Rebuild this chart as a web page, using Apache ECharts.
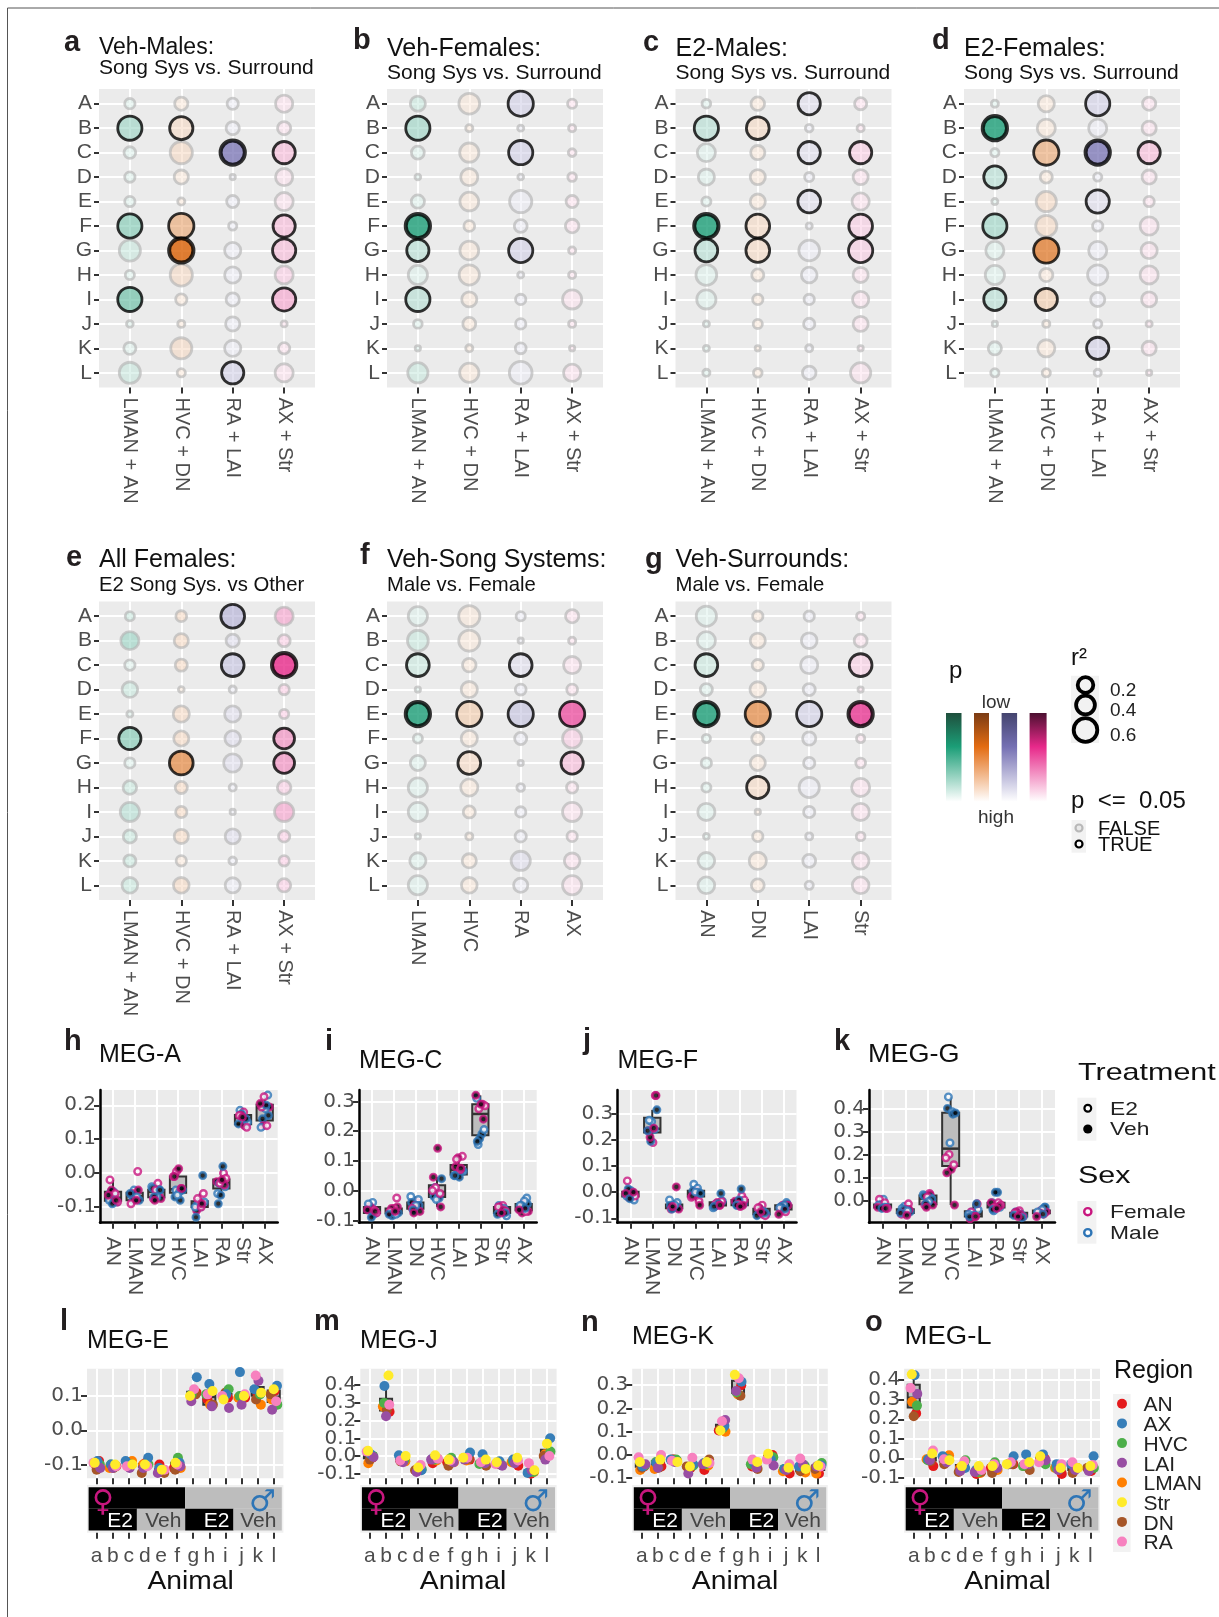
<!DOCTYPE html>
<html><head><meta charset="utf-8">
<style>html,body{margin:0;padding:0;background:#fff}#c{width:1219px;height:1617px}</style>
<script src="https://cdn.jsdelivr.net/npm/echarts@6/dist/echarts.min.js"></script>
</head><body><div id="c"></div>
<script>
// ---------- categories ----------
const rowNames = ['A','B','C','D','E','F','G','H','I','J','K','L'];
const pairCols = ['LMAN + AN','HVC + DN','RA + LAI','AX + Str'];
const songCols = ['LMAN','HVC','RA','AX'];
const surrCols = ['AN','DN','LAI','Str'];
const regionsBox = ['AN','LMAN','DN','HVC','LAI','RA','Str','AX'];
const animals = ['a','b','c','d','e','f','g','h','i','j','k','l'];
const regionNames = ['AN','AX','HVC','LAI','LMAN','Str','DN','RA'];

// ---------- bubble panels: r2 per column, colour shade (p, 10 = lowest p), significant rows ----------
const aR2 = [[.06,.64,.09,.06,.06,.64,.46,.04,.64,.01,.10,.46],[.13,.58,.52,.16,.014,.71,.71,.52,.08,.014,.46,.026],[.08,.13,.71,.002,.10,.026,.23,.23,.13,.16,.23,.52],[.27,.13,.52,.27,.31,.52,.58,.31,.58,.006,.08,.31]];
const bR2 = [[.19,.64,.12,.004,.13,.71,.52,.36,.64,.032,.002,.41],[.44,.014,.36,.27,.34,.07,.34,.41,.19,.12,.014,.36],[.71,.006,.64,.004,.52,.12,.64,.006,.06,.06,.07,.55],[.04,.014,.02,.032,.10,.14,.014,.014,.36,.014,.002,.27]];
const cR2 = [[.032,.64,.31,.23,.04,.71,.55,.44,.36,.006,.006,.014],[.14,.55,.16,.19,.19,.61,.61,.10,.06,.04,.002,.032],[.52,.02,.52,.04,.55,.006,.44,.21,.06,.08,.014,.14],[.10,.014,.52,.19,.27,.61,.64,.19,.23,.19,.002,.41]];
const dR2 = [[.014,.71,.026,.52,.006,.64,.31,.36,.52,.002,.13,.026],[.23,.31,.71,.10,.41,.46,.71,.13,.52,.014,.27,.026],[.64,.31,.71,.026,.58,.06,.31,.41,.16,.026,.52,.014],[.13,.16,.52,.16,.06,.31,.23,.31,.19,.006,.16,.002]];
const eR2 = [[.04,.31,.06,.21,.006,.52,.06,.14,.36,.13,.10,.21],[.07,.16,.10,.004,.23,.19,.61,.10,.08,.16,.06,.21],[.61,.13,.55,.014,.23,.21,.31,.014,.002,.19,.02,.19],[.31,.10,.71,.06,.04,.44,.44,.14,.36,.08,.06,.13]];
const fR2 = [[.36,.44,.55,.002,.71,.04,.19,.36,.36,.002,.23,.36],[.46,.46,.14,.23,.71,.23,.55,.27,.10,.014,.16,.21],[.04,.002,.55,.07,.71,.10,.002,.02,.06,.08,.36,.16],[.13,.014,.27,.07,.71,.36,.52,.08,.36,.06,.21,.36]];
const gR2 = [[.41,.31,.55,.10,.71,.026,.06,.04,.27,.004,.25,.25],[.06,.19,.08,.21,.71,.10,.19,.52,.002,.06,.27,.12],[.06,.21,.27,.10,.71,.13,.08,.41,.08,.014,.12,.026],[.026,.12,.55,.002,.71,.026,.05,.31,.27,.032,.25,.25]];

const aShade = [[1,4,1,1,1,5,2,1,6,1,1,2],[1,2,2,1,1,5,10,2,1,1,2,1],[1,1,9,1,1,1,1,1,1,1,1,3],[1,1,3,1,1,3,3,2,4,1,1,1]];
const bShade = [[2,4,1,1,1,10,3,1,3,1,1,2],[1,1,1,1,1,1,1,1,1,1,1,1],[3,1,3,1,1,1,3,1,1,1,1,1],[1,1,1,1,1,1,1,1,1,1,1,1]];
const cShade = [[1,3,1,1,1,10,3,1,1,1,1,1],[1,2,1,1,1,2,2,1,1,1,1,1],[2,1,2,1,2,1,1,1,1,1,1,1],[1,1,2,1,1,2,2,1,1,1,1,1]];
const dShade = [[1,10,1,3,1,4,1,1,3,1,1,1],[1,1,5,1,2,2,8,1,3,1,1,1],[3,1,9,1,2,1,1,1,1,1,3,1],[1,1,3,1,1,1,1,1,1,1,1,1]];
const eShade = [[2,4,1,2,1,5,1,2,3,2,2,2],[2,2,2,1,2,2,7,2,2,2,1,2],[5,2,4,1,2,2,2,1,1,2,1,1],[4,2,10,2,2,5,5,2,4,2,2,2]];
const fShade = [[1,2,2,1,10,1,1,1,1,1,1,1],[1,1,1,1,3,1,2,1,1,1,1,1],[1,1,2,1,4,1,1,1,1,1,2,1],[1,1,1,1,8,2,3,1,1,1,1,1]];
const gShade = [[1,1,2,1,10,1,1,1,1,1,1,1],[1,1,1,1,7,1,1,2,1,1,1,1],[1,1,1,1,3,1,1,1,1,1,1,1],[1,1,2,1,9,1,1,1,1,1,1,1]];

const aSig = [[1,5,8],[1,5,6],[2,11],[2,5,6,8]];
const bSig = [[1,5,6,8],[],[0,2,6],[]];
const cSig = [[1,5,6],[1,5,6],[0,2,4],[2,5,6]];
const dSig = [[1,3,5,8],[2,6,8],[0,2,4,10],[2]];
const eSig = [[5],[6],[0,2],[2,5,6]];
const fSig = [[2,4],[4,6],[2,4],[4,6]];
const gSig = [[2,4],[4,7],[4],[2,4]];

// ---------- region panels: per region, 12 animals (F-E2 x3, F-Veh x3, M-E2 x3, M-Veh x3) ----------
const pointSex = ['F','F','F','F','F','F','M','M','M','M','M','M'];
const pointTreat = ['E2','E2','E2','Veh','Veh','Veh','E2','E2','E2','Veh','Veh','Veh'];
const megA = [[-.02,-.06,-.085,-.05,-.065,-.08,-.055,-.08,-.085,-.055,-.08,-.09],[.005,-.075,-.09,-.05,-.06,-.08,-.05,-.065,-.07,-.08,-.08,-.06],[-.03,-.05,-.075,-.06,-.075,-.08,-.04,-.05,-.07,-.045,-.05,-.07],[.005,-.01,-.045,.013,-.01,-.045,-.05,-.055,-.065,-.07,-.08,-.05],[-.06,-.075,-.1,-.085,-.11,-.09,-.085,-.09,-.1,-.007,-.1,-.13],[0,-.015,-.03,-.025,-.035,-.02,-.06,-.04,-.03,.02,-.065,-.09],[.18,.17,.135,.17,.14,.165,.185,.14,.15,.175,.145,.16],[.225,.195,.14,.195,.14,.205,.23,.19,.135,.17,.16,.2]];
const megC = [[-.055,-.065,-.075,-.055,-.065,-.07,-.04,-.045,-.075,-.065,-.08,-.09],[-.025,-.06,-.07,-.055,-.06,-.07,-.07,-.075,-.08,-.075,-.085,-.08],[-.04,-.05,-.06,-.05,-.07,-.075,-.02,-.03,-.05,-.04,-.05,-.065],[.01,0,-.01,.142,.045,-.055,.01,-.015,-.03,-.02,-.025,.04],[.115,.105,.07,.11,.08,.075,.065,.055,.05,.07,.045,.05],[.29,.285,.275,.32,.24,.29,.31,.205,.155,.19,.175,.165],[-.05,-.055,-.07,-.055,-.065,-.075,-.05,-.06,-.085,-.06,-.08,-.075],[-.045,-.06,-.07,-.07,-.075,-.065,-.025,-.035,-.05,-.045,-.05,-.06]];
const megF = [[.043,-.01,-.015,-.02,-.005,0,.005,-.015,-.03,.012,-.008,-.025],[.37,.19,.235,.37,.21,.245,.27,.275,.24,.315,.195,.235],[-.05,-.06,-.065,.02,-.065,-.055,-.03,-.04,-.05,-.05,-.06,-.065],[-.01,-.02,-.035,.005,-.015,-.05,.03,.015,0,.005,0,-.005],[-.035,-.045,-.05,-.04,-.055,-.05,-.035,-.045,-.06,-.005,-.045,-.055],[-.015,-.03,-.045,-.035,-.05,-.055,-.04,-.045,-.05,.012,-.03,-.05],[-.05,-.06,-.09,-.06,-.085,-.075,-.065,-.075,-.085,-.065,-.09,-.08],[-.05,-.06,-.075,-.05,-.07,-.085,-.04,-.05,-.06,-.045,-.055,-.065]];
const megG = [[.005,-.01,-.035,-.02,-.03,-.035,.005,-.02,-.03,-.02,-.03,-.035],[-.015,-.04,-.06,-.04,-.055,-.065,-.025,-.035,-.045,-.05,-.04,-.055],[.03,.015,-.02,.025,-.02,-.03,.025,.01,-.005,.02,.005,-.015],[.2,.185,.155,.135,.12,-.02,.45,.385,.25,.4,.375,.38],[-.015,-.05,-.07,-.06,-.08,-.07,-.04,-.05,-.06,-.015,-.065,-.07],[-.01,-.02,-.03,-.01,-.025,-.035,-.01,-.03,-.045,.035,.035,-.04],[-.045,-.055,-.07,-.05,-.06,-.07,-.05,-.06,-.07,-.055,-.065,-.075],[-.045,-.055,-.06,-.05,-.055,-.07,-.03,-.04,-.05,-.03,-.055,-.06]];

// ---------- animal panels: per animal, values for AN,AX,HVC,LAI,LMAN,Str,DN,RA ----------
const megE = [[-.09,-.09,-.1,-.11,-.1,-.095,-.115,-.095],[-.105,-.1,-.1,-.11,-.11,-.1,-.11,-.105],[-.095,-.09,-.1,-.11,-.09,-.1,-.1,-.105],[-.095,-.08,-.1,-.11,-.1,-.1,-.125,-.105],[-.1,-.11,-.115,-.125,-.115,-.115,-.125,-.115],[-.11,-.095,-.08,-.105,-.11,-.095,-.115,-.1],[.11,.155,.105,.085,.105,.1,.105,.12],[.09,.135,.105,.07,.075,.115,.075,.105],[.095,.105,.12,.065,.1,.09,.11,.1],[.095,.17,.1,.075,.095,.1,.095,.105],[.105,.12,.105,.145,.075,.11,.09,.16],[.115,.13,.075,.06,.09,.12,.105,.085]];
const megJ = [[-.01,.01,0,-.005,-.04,.03,-.02,.025],[.25,.395,.3,.225,.28,.455,.26,.29],[-.03,.005,-.02,-.035,-.03,0,-.03,-.025],[-.08,-.08,-.075,-.09,-.08,-.065,-.08,-.05],[-.04,-.015,-.02,-.02,-.025,.005,-.015,-.015],[-.035,-.03,-.01,-.035,-.035,-.02,-.055,-.025],[-.02,.02,-.01,-.02,-.025,-.01,-.015,-.01],[-.04,.01,-.045,-.04,-.035,-.02,-.055,-.035],[-.05,-.03,-.05,-.055,-.04,-.035,-.045,-.045],[-.055,-.02,-.03,-.04,-.035,-.01,-.03,-.025],[-.1,-.095,-.09,-.08,-.09,-.08,-.09,-.04],[.01,.1,.025,-.02,.01,.07,0,0]];
const megK = [[-.05,-.05,-.045,-.04,-.065,-.03,-.055,-.01],[-.05,-.035,-.03,-.055,-.06,-.02,-.055,0],[-.02,-.02,-.02,-.03,-.025,-.03,-.02,-.025],[-.055,-.04,-.045,-.08,-.055,-.05,-.05,-.012],[-.065,-.035,-.04,-.04,-.045,-.03,-.02,-.035],[.105,.125,.115,.15,.1,.105,.11,.145],[.3,.315,.27,.275,.26,.345,.255,.33],[-.05,-.035,-.04,-.055,-.05,-.03,-.06,-.02],[0,-.02,-.01,-.045,-.01,.005,-.005,-.02],[-.08,-.06,-.06,-.065,-.07,-.055,-.065,-.04],[-.07,-.05,-.045,-.04,-.075,-.06,-.07,-.015],[-.08,-.045,-.035,-.05,-.08,-.045,-.06,-.05]];
const megL = [[.23,.425,.27,.33,.29,.43,.215,.36],[-.04,-.005,-.01,-.01,-.005,.025,-.015,.04],[-.015,.01,-.005,-.02,.015,-.01,-.03,-.005],[-.05,-.05,-.01,-.065,-.05,-.04,-.07,-.015],[-.08,-.06,-.07,-.07,-.075,-.04,-.07,-.06],[-.05,-.045,-.02,-.05,-.06,-.04,-.075,-.03],[-.03,.01,-.03,-.03,-.03,-.03,-.03,-.02],[-.04,.02,-.04,-.03,-.03,-.02,-.06,-.03],[0,.02,-.03,-.01,0,.01,-.01,-.02],[-.08,-.03,-.05,-.06,-.05,-.05,-.06,-.03],[-.06,-.03,-.05,-.06,-.05,-.05,-.075,-.02],[-.065,.01,-.05,-.065,-.05,-.04,-.05,-.035]];

// dodge offsets (category units)
const dodge12 = [-.14,.1,.21,-.07,-.21,.14,.03,-.17,.17,-.1,.07,-.03];
const dodge8 = [.15,.05,.2,.22,-.1,-.12,.0,-.2];
const stackOrder = [6,0,9,3,7,1,10,4,8,2,11,5];
// strip annotation: [from, to, row, level]
const stripTiles = [[-.5,5.5,1,'F'],[5.5,11.5,1,'M'],[-.5,2.5,0,'E2'],[2.5,5.5,0,'Veh'],[5.5,8.5,0,'E2'],[8.5,11.5,0,'Veh']];
const stripTexts = [['E2',1.45,-.09,'#fff'],['Veh',4.14,-.09,'#444'],['E2',7.45,-.09,'#fff'],['Veh',10.04,-.09,'#444']];
const stripSymbols = [['\u2640',.39,.77,'#C8177F'],['\u2642',10.3,.75,'#2E75B6']];

// ---------- styling ----------
const FONT = '"Liberation Sans", Arial, sans-serif';
const WIDE = '"DejaVu Sans", sans-serif';
const GREY = '#4d4d4d';
const dark2 = [[27,158,119],[217,95,2],[117,112,179],[231,41,138]];
const sexColor = {F:'#C8177F', M:'#2E75B6'};
const regionColor = {AN:'#E41A1C',AX:'#377EB8',HVC:'#4DAF4A',LAI:'#984EA3',LMAN:'#FF7F00',Str:'#FFEB2A',DN:'#A65628',RA:'#F781BF'};
const drawOrder = ['AN','LMAN','DN','HVC','AX','LAI','RA','Str'];

const grid=[], xAxis=[], yAxis=[], series=[], graphic=[];
function txt(text,x,y,size,opt){opt=opt||{};
  graphic.push({type:'text',x:x,y:y,scaleX:opt.sx||1,z:opt.z||50,silent:true,style:{text:text,x:0,y:0,fill:opt.fill||'#111',
    font:(opt.bold?'bold ':'')+size+'px '+(opt.family||FONT),textAlign:opt.align||'left',textVerticalAlign:'middle',align:opt.align||'left',verticalAlign:'middle'}});
}
function rect(x,y,w,h,fill){graphic.push({type:'rect',z:40,silent:true,shape:{x:x,y:y,width:w,height:h},style:{fill:fill}});}
function circ(cx,cy,r,fill,stroke,lw){graphic.push({type:'circle',z:45,silent:true,shape:{cx:cx,cy:cy,r:r},style:{fill:fill,stroke:stroke,lineWidth:lw}});}
const seq=n=>Array.from({length:n},(_,i)=>i);
function addGrid(l,t,w,h){grid.push({left:l,top:t,width:w,height:h,show:true,backgroundColor:'#ebebeb',borderWidth:0,containLabel:false});return grid.length-1;}
const wl={show:true,lineStyle:{color:'#fff',width:2}};
const tick=(len,vals)=>({show:true,length:len,customValues:vals,lineStyle:{color:'#333',width:2}});

function mix(c,t){const k=Math.min(1,t+.07),m=c.map(v=>Math.round(255+(v-255)*k));return 'rgba('+m[0]+','+m[1]+','+m[2]+','+(0.55+0.45*t)+')';}

function bubblePanel(l,t,cols,r2,shade,sig){
  const g=addGrid(l,t,216,298.5);
  xAxis.push({gridIndex:g,type:'value',min:-.6,max:3.6,position:'bottom',axisLine:{show:false,onZero:false},splitLine:wl,axisTick:tick(6,seq(4)),
    axisLabel:{customValues:seq(4),rotate:-90,margin:10,fontFamily:FONT,fontSize:20,color:GREY,showMinLabel:true,showMaxLabel:true,formatter:v=>cols[Math.round(v)]}});
  yAxis.push({gridIndex:g,type:'value',inverse:true,min:-.6,max:11.6,axisLine:{show:false,onZero:false},splitLine:wl,axisTick:tick(5,seq(12)),
    axisLabel:{customValues:seq(12),margin:7,fontFamily:FONT,fontSize:21,color:GREY,lineHeight:16,hideOverlap:false,showMinLabel:true,showMaxLabel:true,formatter:v=>rowNames[Math.round(v)]}});
  const data=[];
  cols.forEach((c,ci)=>rowNames.forEach((rn,ri)=>{
    const s=sig[ci].indexOf(ri)>=0, lv=shade[ci][ri]/10, strong=s&&shade[ci][ri]>=9;
    data.push({value:[ci,ri,r2[ci][ri]],symbolSize:4.2+25*Math.sqrt(r2[ci][ri])-(strong?1:0),
      itemStyle:{color:mix(dark2[ci],lv),borderColor:s?'#000':'rgba(180,180,180,.82)',borderWidth:strong?4:2.8}});
  }));
  // non-significant first so black rings sit on top
  data.sort((a,b)=>(a.itemStyle.borderColor==='#000')-(b.itemStyle.borderColor==='#000'));
  series.push({type:'scatter',xAxisIndex:g,yAxisIndex:g,data:data,silent:true,animation:false,clip:false});
}
function quant(v){const s=v.slice().sort((a,b)=>a-b),q=p=>{const k=(s.length-1)*p,f=Math.floor(k);return s[f]+(s[Math.min(f+1,s.length-1)]-s[f])*(k-f);};
  const q1=q(.25),q3=q(.75),iqr=q3-q1,lo=s.find(x=>x>=q1-1.5*iqr),hi=s.slice().reverse().find(x=>x<=q3+1.5*iqr);return [lo,q1,q(.5),q3,hi];}
function boxItem(params,api){
  const x=api.value(0),hw=.375,st={stroke:'#333',lineWidth:2,fill:'#bdbdbd'},ln={stroke:'#333',lineWidth:2};
  const p=(dx,i)=>api.coord([x+dx,api.value(i)]);
  const a=p(-hw,2),b=p(hw,4),m1=p(-hw,3),m2=p(hw,3),w1=p(0,1),w2=p(0,2),w3=p(0,4),w4=p(0,5);
  return {type:'group',children:[
    {type:'line',shape:{x1:w1[0],y1:w1[1],x2:w2[0],y2:w2[1]},style:ln},
    {type:'line',shape:{x1:w3[0],y1:w3[1],x2:w4[0],y2:w4[1]},style:ln},
    {type:'rect',shape:{x:a[0],y:b[1],width:b[0]-a[0],height:a[1]-b[1]},style:st},
    {type:'line',shape:{x1:m1[0],y1:m1[1],x2:m2[0],y2:m2[1]},style:{stroke:'#333',lineWidth:2.5}}]};
}
function boxSeries(g,groups){
  series.push({type:'custom',xAxisIndex:g,yAxisIndex:g,silent:true,animation:false,clip:false,z:2,renderItem:boxItem,encode:{x:0,y:[1,2,3,4,5]},
    data:groups.map((v,i)=>[i].concat(quant(v)))});
}
function regionPanel(l,w,ymin,ymax,ticks,vals){
  const t=1090,h=132.7,g=addGrid(l,t,w,h);
  xAxis.push({gridIndex:g,type:'value',min:-.6,max:7.6,axisLine:{show:true,onZero:false,lineStyle:{color:'#000',width:2.5}},splitLine:wl,axisTick:tick(6,seq(8)),
    axisLabel:{customValues:seq(8),rotate:-90,margin:14,fontFamily:FONT,fontSize:21,color:GREY,lineHeight:16,hideOverlap:false,showMinLabel:true,showMaxLabel:true,formatter:v=>regionsBox[Math.round(v)]}});
  yAxis.push({gridIndex:g,type:'value',min:ymin,max:ymax,axisLine:{show:true,onZero:false,lineStyle:{color:'#000',width:2.5}},splitLine:wl,axisTick:tick(6,ticks),
    axisLabel:{customValues:ticks,margin:4,fontFamily:WIDE,fontSize:20,color:GREY,lineHeight:14,hideOverlap:false,showMinLabel:true,showMaxLabel:true,formatter:v=>v.toFixed(1)}});
  boxSeries(g,vals);
  const data=[];
  vals.forEach((v,r)=>stackOrder.forEach(i=>{
    data.push({value:[r+dodge12[(i+r*5)%12],v[i]],symbolSize:6.6,itemStyle:{color:pointTreat[i]==='E2'?'#fff':'#000',borderColor:sexColor[pointSex[i]],borderWidth:2.4}});
  }));
  series.push({type:'scatter',xAxisIndex:g,yAxisIndex:g,data:data,silent:true,animation:false,clip:false,z:3});
}
function animalPanel(l,w,ymin,ymax,ticks,vals,nameX,dense){
  const t=1368.7,h=109.5,g=addGrid(l,t,w,h);
  // dense scales: the axis ends are listed too and switched off, so every real tick label stays drawn
  const tv=dense?[ymin].concat(ticks,[ymax]):ticks;
  xAxis.push({gridIndex:g,type:'value',min:-.6,max:11.6,axisLine:{show:false,onZero:false},splitLine:wl,axisTick:tick(6,seq(12)),axisLabel:{show:false}});
  yAxis.push({gridIndex:g,type:'value',min:ymin,max:ymax,axisLine:{show:false,onZero:false},
    splitLine:{show:true,showMinLine:!dense,showMaxLine:!dense,lineStyle:{color:'#fff',width:2}},axisTick:tick(6,tv),
    axisLabel:{customValues:tv,margin:4,fontFamily:WIDE,fontSize:20,color:GREY,hideOverlap:false,showMinLabel:!dense,showMaxLabel:!dense,formatter:v=>(ticks.indexOf(v)<0?'':v.toFixed(1))}});
  boxSeries(g,vals);
  drawOrder.forEach((rn,oi)=>{
    const ci=regionNames.indexOf(rn);
    series.push({type:'scatter',name:rn,xAxisIndex:g,yAxisIndex:g,silent:true,animation:false,clip:false,z:3+oi*.01,symbolSize:10,itemStyle:{color:regionColor[rn],opacity:1},
      data:vals.map((row,ai)=>[ai+dodge8[(ci+ai*3)%8],row[ci]])});
  });
  // annotation strip
  const s=addGrid(l,1485,w,47.7);
  grid[s].backgroundColor='#f0f0f0';
  xAxis.push({gridIndex:s,type:'value',min:-.6,max:11.6,axisLine:{show:false,onZero:false},splitLine:{show:false},axisTick:tick(6,seq(12)),
    axisLabel:{customValues:seq(12),margin:13,fontFamily:FONT,fontSize:21,color:GREY,hideOverlap:false,showMinLabel:true,showMaxLabel:true,formatter:v=>animals[Math.round(v)]}});
  yAxis.push({gridIndex:s,type:'value',min:-.6,max:1.6,show:false});
  series.push({type:'custom',xAxisIndex:s,yAxisIndex:s,silent:true,animation:false,clip:false,renderItem:(p,api)=>{
      const a=api.coord([api.value(0),api.value(2)+.5]),b=api.coord([api.value(1),api.value(2)-.5]),k=stripTiles[p.dataIndex][3];
      return {type:'rect',shape:{x:a[0],y:a[1],width:b[0]-a[0],height:b[1]-a[1]},style:{fill:(k==='F'||k==='E2')?'#000':'#bdbdbd'}};},
    encode:{x:[0,1],y:2},data:stripTiles.map(d=>[d[0],d[1],d[2]])});
  series.push({type:'custom',xAxisIndex:s,yAxisIndex:s,silent:true,animation:false,clip:false,z:4,renderItem:(p,api)=>{
      const c=api.coord([api.value(0),api.value(1)]),d=stripTexts[p.dataIndex];
      return {type:'text',x:c[0],y:c[1],style:{text:d[0],fill:d[3],font:'21px '+FONT,textAlign:'center',textVerticalAlign:'middle',align:'center',verticalAlign:'middle'}};},
    encode:{x:0,y:1},data:stripTexts.map(d=>[d[1],d[2]])});
  series.push({type:'custom',xAxisIndex:s,yAxisIndex:s,silent:true,animation:false,clip:false,z:4,renderItem:(p,api)=>{
      const c=api.coord([api.value(0),api.value(1)]),d=stripSymbols[p.dataIndex];
      return {type:'text',x:c[0],y:c[1],style:{text:d[0],fill:d[3],font:'bold 30px "DejaVu Sans"',textAlign:'center',textVerticalAlign:'middle',align:'center',verticalAlign:'middle'}};},
    encode:{x:0,y:1},data:stripSymbols.map(d=>[d[1],d[2]])});
  txt('Animal',nameX,1582,25,{align:'center',sx:1.13});
}

// ---------- panels ----------
bubblePanel(99,89,pairCols,aR2,aShade,aSig);
bubblePanel(387,89,pairCols,bR2,bShade,bSig);
bubblePanel(675.5,89,pairCols,cR2,cShade,cSig);
bubblePanel(964,89,pairCols,dR2,dShade,dSig);
bubblePanel(99,601.5,pairCols,eR2,eShade,eSig);
bubblePanel(387,601.5,songCols,fR2,fShade,fSig);
bubblePanel(675.5,601.5,surrCols,gR2,gShade,gSig);

regionPanel(100,177.7,-.146,.245,[-.1,0,.1,.2],megA);
regionPanel(359,177.7,-.108,.338,[-.1,0,.1,.2,.3],megC);
regionPanel(617.3,179.2,-.117,.391,[-.1,0,.1,.2,.3],megF);
regionPanel(869,186,-.097,.48,[0,.1,.2,.3,.4],megG);

animalPanel(87,196.4,-.14,.18,[-.1,0,.1],megE,190.7,false);
animalPanel(360.3,196.3,-.125,.493,[-.1,0,.1,.2,.3,.4],megJ,463,true);
animalPanel(632.2,195.6,-.1,.371,[-.1,0,.1,.2,.3],megK,735,false);
animalPanel(904.1,195.9,-.102,.459,[-.1,0,.1,.2,.3,.4],megL,1007.5,true);

// ---------- titles and letters ----------
[['a',64,43],['b',353,41],['c',643,43],['d',932,41],['e',66,558],['f',360,556],['g',645,560],
 ['h',64,1041.5],['i',325,1041.5],['j',583,1041],['k',834,1041.5],['l',60,1322],['m',314,1322],['n',581,1323],['o',865,1323]]
 .forEach(d=>txt(d[0],d[1],d[2],29,{bold:true,fill:'#231f20'}));
const head='Song Sys vs. Surround';
[['Veh-Males:',head,99,48,68,23,21],['Veh-Females:',head,387,49,73,25,21],['E2-Males:',head,675.5,49,73,25,21],['E2-Females:',head,964,49,73,25,21],
 ['All Females:','E2 Song Sys. vs Other',99,560,585,25,20.3],['Veh-Song Systems:','Male vs. Female',387,560,585,25,20.3],['Veh-Surrounds:','Male vs. Female',675.5,560,585,25,20.3]]
 .forEach(d=>{txt(d[0],d[2],d[3],d[5]);txt(d[1],d[2],d[4],d[6]);});
[['MEG-A',99,1055],['MEG-C',359,1061],['MEG-F',617.5,1061],['MEG-G',868,1055,1.08],['MEG-E',87,1341],['MEG-J',360,1341],['MEG-K',632,1337],['MEG-L',904.5,1337,1.1]]
 .forEach(d=>txt(d[0],d[1],d[2],25,{sx:d[3]||1}));

// ---------- legends ----------
txt('p',949,671,24);
txt('low',996,703,19,{align:'center',fill:'#333'});
txt('high',996,818,19,{align:'center',fill:'#333'});
[[946,15.5,'#1f4f3d','#1B9E77'],[974,15,'#7a3b14','#E36C12'],[1001.6,15.5,'#44446e','#7570B3'],[1029.6,17,'#4c1030','#E7298A']].forEach(b=>{
  graphic.push({type:'rect',z:40,silent:true,shape:{x:b[0],y:713,width:b[1],height:88.7},style:{fill:{type:'linear',x:0,y:0,x2:0,y2:1,
    colorStops:[{offset:0,color:b[2]},{offset:.38,color:b[3]},{offset:1,color:'#ffffff'}]}}});
});
txt('r\u00b2',1071,658,24);
rect(1071,675.7,28,67.3,'#f2f2f2');
[[685,7.8,'0.2',691],[705,9.4,'0.4',711],[730,11.8,'0.6',736]].forEach(d=>{circ(1085.5,d[0],d[1],'rgba(0,0,0,0)','#000',3.8);txt(d[2],1110,d[3],19,{fill:'#222'});});
txt('p  <=  0.05',1071,801,24);
rect(1071.5,820,14.5,32.7,'#f2f2f2');
circ(1079,828,3.5,'#e8e8e8','#b8b8b8',2.2);circ(1079,844,3.5,'#fff','#000',2.2);
txt('FALSE',1098,829,20);txt('TRUE',1098,845,20);

txt('Treatment',1078,1073,24,{sx:1.27});
rect(1077.4,1097.7,19,43,'#f2f2f2');
circ(1087.8,1108.3,3.4,'#fff','#000',2.2);circ(1087.8,1129,4.6,'#000','#000',0);
txt('E2',1110,1109.5,19,{sx:1.2,fill:'#222'});txt('Veh',1110,1130,19,{sx:1.2,fill:'#222'});
txt('Sex',1078,1176,24,{sx:1.27});
rect(1077.4,1201,19,42.7,'#f2f2f2');
circ(1087.8,1211.7,3.6,'#fff','#C8177F',2.4);circ(1087.8,1232.7,3.6,'#fff','#2E75B6',2.4);
txt('Female',1110,1213,19,{sx:1.2,fill:'#222'});txt('Male',1110,1234,19,{sx:1.2,fill:'#222'});
txt('Region',1114,1371,25);
rect(1113,1394,17.6,158,'#f2f2f2');
regionNames.forEach((r,i)=>{const y=1403.7+i*19.7;circ(1122,y,5,regionColor[r],'none',0);txt(r,1143.5,y+2,21,{fill:'#222'});});

// page rule
graphic.push({type:'polyline',z:1,silent:true,shape:{points:[[7.5,1617],[7.5,8],[1219,8]]},style:{stroke:'#555',lineWidth:1,fill:'none'}});

const chart=echarts.init(document.getElementById('c'),null,{renderer:'canvas'});
chart.setOption({animation:false,backgroundColor:'#fff',tooltip:{show:false},grid:grid,xAxis:xAxis,yAxis:yAxis,series:series,graphic:{elements:graphic}});
</script></body></html>
